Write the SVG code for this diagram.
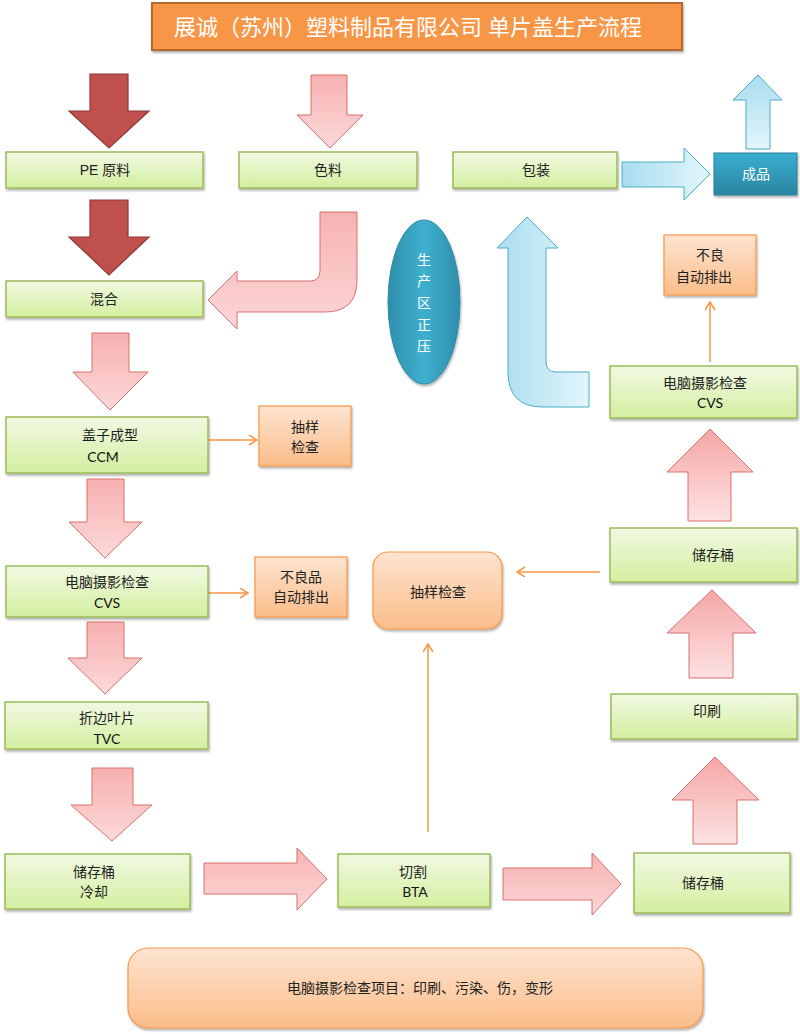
<svg xmlns="http://www.w3.org/2000/svg" width="800" height="1034" viewBox="0 0 800 1034">
<defs>
<linearGradient id="gGreen" x1="0" y1="0" x2="0" y2="1"><stop offset="0" stop-color="#f1f9e3"/><stop offset="1" stop-color="#d3ef9f"/></linearGradient>
<linearGradient id="gOrange" x1="0" y1="0" x2="0" y2="1"><stop offset="0" stop-color="#fde4d0"/><stop offset="1" stop-color="#fbbd8a"/></linearGradient>
<linearGradient id="gPinkD" x1="0" y1="0" x2="0" y2="1"><stop offset="0" stop-color="#f7b0b0"/><stop offset="1" stop-color="#fcd9d9"/></linearGradient>
<linearGradient id="gPinkU" x1="0" y1="1" x2="0" y2="0"><stop offset="0" stop-color="#fde2e2"/><stop offset="1" stop-color="#f6a6a6"/></linearGradient>
<linearGradient id="gPinkR" x1="0" y1="0" x2="0" y2="1"><stop offset="0" stop-color="#f7b3b3"/><stop offset="1" stop-color="#fcd6d6"/></linearGradient>
<linearGradient id="gBlue" x1="0" y1="0" x2="1" y2="0"><stop offset="0" stop-color="#a8ddef"/><stop offset="1" stop-color="#e3f6fb"/></linearGradient>
<linearGradient id="gBlueV" x1="0" y1="0" x2="0" y2="1"><stop offset="0" stop-color="#a8ddef"/><stop offset="1" stop-color="#e3f6fb"/></linearGradient>
<linearGradient id="gTeal" x1="0" y1="0" x2="0" y2="1"><stop offset="0" stop-color="#3aaecf"/><stop offset="1" stop-color="#2a86a2"/></linearGradient>
<linearGradient id="gEll" x1="0" y1="0" x2="1" y2="0"><stop offset="0" stop-color="#2f8eab"/><stop offset="0.5" stop-color="#3fb0cf"/><stop offset="1" stop-color="#2f8eab"/></linearGradient>
<filter id="sh" x="-10%" y="-10%" width="120%" height="130%"><feDropShadow dx="1" dy="2" stdDeviation="1.2" flood-color="#000" flood-opacity="0.3"/></filter>
<marker id="oa" markerUnits="userSpaceOnUse" markerWidth="12" markerHeight="12" refX="9" refY="5" orient="auto"><path d="M1,0 L9,5 L1,10" fill="none" stroke="#f79646" stroke-width="1.5"/></marker>
</defs>
<style>
.g{fill:url(#gGreen);stroke:#9bbb59;stroke-width:1.5;filter:url(#sh)}
.o{fill:url(#gOrange);stroke:#f79646;stroke-width:1.2;filter:url(#sh)}
.t{font-family:"Liberation Sans","Noto Sans CJK SC",sans-serif;font-size:14px;fill:#222;text-anchor:middle}
.l{font-family:Lato,"Liberation Sans",sans-serif;font-size:14px;fill:#111;text-anchor:middle}
.w{fill:#fff}
.pd{fill:url(#gPinkD);stroke:#d8706d;stroke-width:1}
.pu{fill:url(#gPinkU);stroke:#d8706d;stroke-width:1}
.pr{fill:url(#gPinkR);stroke:#d8706d;stroke-width:1}
.dr{fill:#c0504d;stroke:#8c3836;stroke-width:1.2}
.bl{fill:url(#gBlue);stroke:#4bacc6;stroke-width:1}
.blv{fill:url(#gBlueV);stroke:#4bacc6;stroke-width:1}
.c{stroke:#f79646;stroke-width:1.5;fill:none;marker-end:url(#oa)}
</style>
<rect width="800" height="1034" fill="#fff"/>

<g id="title">
<rect x="152" y="3" width="530" height="47" fill="#f79646" stroke="#b5692e" stroke-width="2" filter="url(#sh)"/>
<text x="408" y="35" class="t w" style="font-size:22px">展诚（苏州）塑料制品有限公司 单片盖生产流程</text>
</g>

<g id="block-arrows">
<path class="dr" d="M90 74 H128 V111 H149 L109 148 L69 111 H90 Z"/>
<path class="dr" d="M90 200 H128 V237 H149 L109 275 L69 237 H90 Z"/>
<path class="pd" d="M311 75 H347 V115 H363 L330 148 L297 115 H311 Z"/>
<path class="pr" d="M320 212 L357 212 L357 280 Q357 312 325 312 L237 312 L237 329 L208 300 L237 271 L237 281 L310 281 Q320 281 320 271 Z"/>
<path class="pd" d="M92 333 H129 V372 H148 L110 410 L73 372 H92 Z"/>
<path class="pd" d="M87 479 H124 V522 H142 L105 558 L69 522 H87 Z"/>
<path class="pd" d="M87 622 H124 V658 H142 L105 694 L68 658 H87 Z"/>
<path class="pd" d="M92 768 H133 V805 H152 L112 841 L71 805 H92 Z"/>
<path class="pr" d="M204 863 H297 V848 L327 879 L297 910 V894 H204 Z"/>
<path class="pr" d="M503 868 H592 V853 L621 884 L592 915 V900 H503 Z"/>
<path class="pu" d="M693 844 V800 H672 L715 757 L759 800 H737 V844 Z"/>
<path class="pu" d="M689 678 V633 H667 L712 590 L756 633 H733 V678 Z"/>
<path class="pu" d="M688 521 V472 H667 L710 429 L753 472 H731 V521 Z"/>
<path class="bl" d="M622 162 H684 V148 L710 174 L684 200 V187 H622 Z"/>
<path class="blv" d="M746 149 V100 H733 L758 75 L782 100 H770 V149 Z"/>
<path class="bl" d="M527 217 L558 248 L546 248 L546 362 Q546 372 556 372 L589 372 L589 407 L543 407 Q508 407 508 372 L508 248 L497 248 Z"/>
</g>

<g id="connectors">
<line class="c" x1="208" y1="440" x2="257" y2="440"/>
<line class="c" x1="208" y1="593" x2="248" y2="593"/>
<line class="c" x1="600" y1="572" x2="517" y2="572"/>
<line class="c" x1="428" y1="832" x2="428" y2="644"/>
<line class="c" x1="710" y1="362" x2="710" y2="302"/>
</g>

<g id="n-pe"><rect class="g" x="6" y="152" width="197" height="36"/><text class="t" x="105" y="175">PE 原料</text></g>
<g id="n-color"><rect class="g" x="239" y="152" width="178" height="36"/><text class="t" x="328" y="175">色料</text></g>
<g id="n-pack"><rect class="g" x="453" y="152" width="164" height="36"/><text class="t" x="536" y="175">包装</text></g>
<g id="n-product"><rect x="714" y="153" width="83" height="42" fill="url(#gTeal)" stroke="#2a7f98" stroke-width="1" filter="url(#sh)"/><text class="t w" x="756" y="179">成品</text></g>
<g id="n-mix"><rect class="g" x="6" y="281" width="197" height="36"/><text class="t" x="104" y="304">混合</text></g>
<g id="n-zone"><ellipse cx="424" cy="302" rx="36" ry="82" fill="url(#gEll)" stroke="#2c8aa6" stroke-width="1" filter="url(#sh)"/>
<text class="t w" x="424" y="265">生</text><text class="t w" x="424" y="286">产</text><text class="t w" x="424" y="308">区</text><text class="t w" x="424" y="330">正</text><text class="t w" x="424" y="351">压</text></g>
<g id="n-ccm"><rect class="g" x="6" y="417" width="202" height="56"/><text class="t" x="110" y="440">盖子成型</text><text class="l" x="103" y="462">CCM</text></g>
<g id="n-sample1"><rect class="o" x="259" y="406" width="92" height="60"/><text class="t" x="305" y="432">抽样</text><text class="t" x="305" y="452">检查</text></g>
<g id="n-cvs1"><rect class="g" x="6" y="566" width="202" height="51"/><text class="t" x="107" y="587">电脑摄影检查</text><text class="l" x="107" y="608">CVS</text></g>
<g id="n-reject1"><rect class="o" x="255" y="557" width="92" height="60"/><text class="t" x="301" y="582">不良品</text><text class="t" x="301" y="602">自动排出</text></g>
<g id="n-tvc"><rect class="g" x="5" y="702" width="203" height="47"/><text class="t" x="107" y="723">折边叶片</text><text class="l" x="107" y="744">TVC</text></g>
<g id="n-cool"><rect class="g" x="5" y="854" width="185" height="55"/><text class="t" x="94" y="877">储存桶</text><text class="t" x="94" y="897">冷却</text></g>
<g id="n-bta"><rect class="g" x="338" y="854" width="152" height="53"/><text class="t" x="413" y="877">切割</text><text class="l" x="415" y="897">BTA</text></g>
<g id="n-store1"><rect class="g" x="634" y="853" width="156" height="60"/><text class="t" x="703" y="888">储存桶</text></g>
<g id="n-print"><rect class="g" x="611" y="694" width="186" height="45"/><text class="t" x="707" y="716">印刷</text></g>
<g id="n-store2"><rect class="g" x="610" y="528" width="187" height="54"/><text class="t" x="713" y="560">储存桶</text></g>
<g id="n-sample2"><rect class="o" x="373" y="552" width="129" height="77" rx="15"/><text class="t" x="438" y="597">抽样检查</text></g>
<g id="n-cvs2"><rect class="g" x="610" y="366" width="187" height="52"/><text class="t" x="705" y="388">电脑摄影检查</text><text class="l" x="710" y="408">CVS</text></g>
<g id="n-reject2"><rect class="o" x="664" y="235" width="92" height="60"/><text class="t" x="710" y="260">不良</text><text class="t" x="704" y="282">自动排出</text></g>
<g id="n-note"><rect class="o" x="128" y="948" width="575" height="80" rx="20"/><text class="t" x="420" y="993">电脑摄影检查项目：印刷、污染、伤，变形</text></g>
</svg>
